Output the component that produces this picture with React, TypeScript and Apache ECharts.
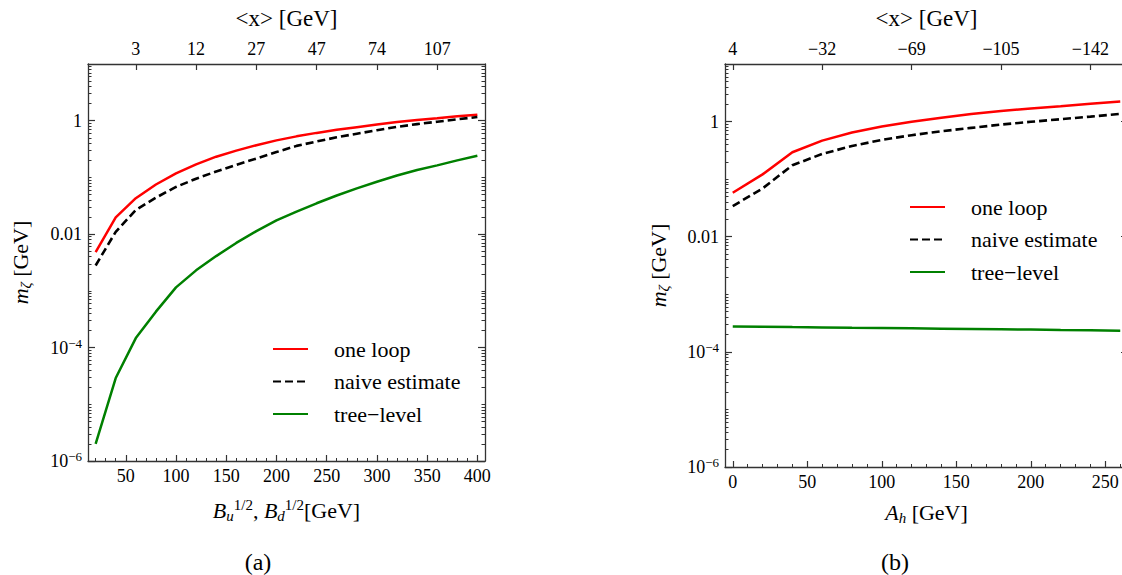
import React, { useEffect, useRef } from 'react';
import * as echarts from 'echarts';

// ---------- data ----------
const xLeft = [20, 40, 60, 80, 100, 120, 140, 160, 180, 200, 220, 240, 260, 280, 300, 320, 340, 360, 380, 400];
const oneLoopLeft = [0.0048, 0.0198, 0.043, 0.075, 0.118, 0.17, 0.232, 0.297, 0.37, 0.45, 0.53, 0.61, 0.69, 0.77, 0.86, 0.95, 1.03, 1.11, 1.2, 1.28];
const naiveLeft = [0.0028, 0.011, 0.0267, 0.044, 0.068, 0.095, 0.127, 0.167, 0.215, 0.28, 0.36, 0.43, 0.51, 0.59, 0.68, 0.78, 0.87, 0.96, 1.06, 1.16];
const treeLeft = [2.0e-6, 2.9e-5, 1.47e-4, 4.3e-4, 1.15e-3, 2.3e-3, 4.1e-3, 7.0e-3, 0.0113, 0.0175, 0.025, 0.035, 0.048, 0.064, 0.084, 0.108, 0.135, 0.163, 0.2, 0.242];

const xRight = [0, 20, 40, 60, 80, 100, 120, 140, 160, 180, 200, 220, 240, 260];
const oneLoopRight = [0.058, 0.121, 0.293, 0.467, 0.645, 0.82, 0.99, 1.16, 1.35, 1.52, 1.69, 1.85, 2.03, 2.23];
const naiveRight = [0.034, 0.069, 0.174, 0.274, 0.377, 0.48, 0.58, 0.68, 0.776, 0.887, 0.99, 1.1, 1.22, 1.36];
const treeRight = [2.77e-4, 2.73e-4, 2.69e-4, 2.66e-4, 2.62e-4, 2.59e-4, 2.56e-4, 2.53e-4, 2.5e-4, 2.47e-4, 2.44e-4, 2.4e-4, 2.37e-4, 2.33e-4];

const seriesNames = ['one loop', 'naive estimate', 'tree\u2212level'];

const bottomTicksLeft = [50, 100, 150, 200, 250, 300, 350, 400];
const topTickPosLeft = [60, 120, 180, 240, 300, 360];
const topTickLabelsLeft = ['3', '12', '27', '47', '74', '107'];

const bottomTicksRight = [0, 50, 100, 150, 200, 250];
const topTickPosRight = [0, 60, 120, 180, 240];
const topTickLabelsRight = ['4', '\u221232', '\u221269', '\u2212105', '\u2212142'];

const yMajorTicks = [1e-6, 1e-4, 1e-2, 1];

// ---------- styling helpers ----------
const FONT = 'Liberation Serif';
const FRAME = '#333333';

function range(a: number, b: number, step: number) {
  const out: number[] = [];
  for (let v = a; v <= b + 1e-9; v += step) out.push(v);
  return out;
}

function yMinorTicks() {
  const out: number[] = [];
  for (let n = -6; n <= 0; n++) {
    if (n % 2 !== 0) out.push(Number('1e' + n));
    for (let k = 2; k <= 9; k++) out.push(Number(k + 'e' + n));
  }
  return out;
}

function yLabel(v: number) {
  const e = Math.round(Math.log10(v));
  if (e === 0) return '1';
  if (e === -2) return '0.01';
  return '{b|10}{s|\u2212' + -e + '}';
}

const yRich = {
  b: { fontSize: 18, fontFamily: FONT, color: '#000', lineHeight: 22, verticalAlign: 'middle' },
  s: { fontSize: 13, fontFamily: FONT, color: '#000', verticalAlign: 'top' },
};

const titleRich = {
  t: { fontSize: 22, fontFamily: FONT, color: '#000', lineHeight: 26 },
  i: { fontSize: 22, fontFamily: FONT, fontStyle: 'italic', color: '#000', lineHeight: 26 },
  sub: { fontSize: 15, fontFamily: FONT, fontStyle: 'italic', color: '#000', verticalAlign: 'bottom' },
  sup: { fontSize: 15, fontFamily: FONT, color: '#000', verticalAlign: 'top' },
};

function mainX(gridIndex: number, min: number, max: number, ticks: number[], name: string, nameGap: number) {
  return {
    type: 'value', gridIndex, position: 'bottom', min, max,
    axisLine: { show: true, onZero: false, lineStyle: { color: FRAME, width: 1.3 } },
    axisTick: { show: true, inside: true, length: 6, customValues: ticks, lineStyle: { color: FRAME, width: 1.2 } },
    axisLabel: { show: true, customValues: ticks, margin: 6, fontSize: 18, fontFamily: FONT, color: '#000' },
    splitLine: { show: false },
    name, nameLocation: 'middle', nameGap,
    nameTextStyle: { rich: titleRich, fontSize: 22, fontFamily: FONT, color: '#000', lineHeight: 26 },
  };
}

function topX(gridIndex: number, min: number, max: number, pos: number[], labels: string[]) {
  return {
    type: 'value', gridIndex, position: 'top', min, max,
    axisLine: { show: true, onZero: false, lineStyle: { color: FRAME, width: 1.3 } },
    axisTick: { show: true, inside: true, length: 6, customValues: pos, lineStyle: { color: FRAME, width: 1.2 } },
    axisLabel: {
      show: true, customValues: pos, margin: 6, fontSize: 18, fontFamily: FONT, color: '#000',
      formatter: (v: number) => {
        const i = pos.findIndex((p) => Math.abs(p - v) < 1e-6);
        return i >= 0 ? labels[i] : '';
      },
    },
    splitLine: { show: false },
    name: '<x> [GeV]', nameLocation: 'middle', nameGap: 34,
    nameTextStyle: { fontSize: 23, fontFamily: FONT, color: '#000', lineHeight: 24 },
  };
}

function minorX(gridIndex: number, min: number, max: number, ticks: number[]) {
  return {
    type: 'value', gridIndex, position: 'bottom', min, max,
    axisLine: { show: false, onZero: false },
    axisTick: { show: true, inside: true, length: 3, customValues: ticks, lineStyle: { color: FRAME, width: 1 } },
    axisLabel: { show: false },
    splitLine: { show: false },
  };
}

function mainY(gridIndex: number, position: string, withLabels: boolean, nameGap: number) {
  return {
    type: 'log', logBase: 10, gridIndex, position, min: 1e-6, max: 10,
    axisLine: { show: true, onZero: false, lineStyle: { color: FRAME, width: 1.3 } },
    axisTick: { show: true, inside: true, length: 7, customValues: yMajorTicks, lineStyle: { color: FRAME, width: 1.2 } },
    axisLabel: withLabels
      ? { show: true, customValues: yMajorTicks, margin: 6, fontSize: 18, fontFamily: FONT, color: '#000', formatter: yLabel, rich: yRich }
      : { show: false },
    splitLine: { show: false },
    minorTick: { show: false },
    name: withLabels ? '{i|m}{sub|\u03b6}{t| [GeV]}' : '',
    nameLocation: 'middle', nameGap,
    nameTextStyle: { rich: titleRich, fontSize: 22, fontFamily: FONT, color: '#000', lineHeight: 26 },
  };
}

function minorY(gridIndex: number, position: string) {
  return {
    type: 'log', logBase: 10, gridIndex, position, min: 1e-6, max: 10,
    axisLine: { show: false, onZero: false },
    axisTick: { show: true, inside: true, length: 3.5, customValues: yMinorTicks(), lineStyle: { color: FRAME, width: 1 } },
    axisLabel: { show: false },
    splitLine: { show: false },
    minorTick: { show: false },
  };
}

function lineSeries(name: string, xi: number, yi: number, xs: number[], ys: number[], color: string, dashed: boolean) {
  return {
    type: 'line', name, xAxisIndex: xi, yAxisIndex: yi,
    data: xs.map((x, i) => [x, ys[i]]),
    symbol: 'none', showSymbol: false, smooth: false,
    lineStyle: { color, width: dashed ? 2.6 : 2.5, type: dashed ? [8, 4] : 'solid' },
    itemStyle: { color },
    emphasis: { disabled: true },
  };
}

function legend(left: number, top: number) {
  return {
    orient: 'vertical', left, top, padding: 0, itemWidth: 35, itemHeight: 14, itemGap: 10.5,
    selectedMode: false, data: seriesNames,
    itemStyle: { opacity: 0 },
    textStyle: { fontSize: 22, fontFamily: FONT, color: '#000', lineHeight: 22, padding: [0, 0, 0, 21] },
  };
}

const GL = { left: 88, top: 64, width: 397, height: 397 };
const GR = { left: 725, top: 64, width: 403, height: 403 };

const LXMIN = 12.4, LXMAX = 407.6;
const RXMIN = -5.2, RXMAX = 265.2;

export default function App() {
  const ref = useRef<HTMLDivElement>(null);
  useEffect(() => {
    if (!ref.current) return;
    const chart = echarts.init(ref.current, undefined, { renderer: 'svg' });
    const g = (r: any) => ({ ...r, containLabel: false, outerBoundsMode: 'none' });
    const option = {
      animation: false,
      backgroundColor: '#ffffff',
      textStyle: { fontFamily: FONT },
      grid: [g(GL), g(GL), g(GR), g(GR)],
      xAxis: [
        mainX(0, LXMIN, LXMAX, bottomTicksLeft, '{i|B}{sub|u}{sup|1/2}{t|, }{i|B}{sub|d}{sup|1/2}{t|[GeV]}', 36),
        topX(0, LXMIN, LXMAX, topTickPosLeft, topTickLabelsLeft),
        minorX(1, LXMIN, LXMAX, range(20, 400, 10)),
        mainX(2, RXMIN, RXMAX, bottomTicksRight, '{i|A}{sub|h}{t| [GeV]}', 32),
        topX(2, RXMIN, RXMAX, topTickPosRight, topTickLabelsRight),
        minorX(3, RXMIN, RXMAX, range(0, 260, 10)),
      ],
      yAxis: [
        mainY(0, 'left', true, 55),
        mainY(0, 'right', false, 0),
        minorY(1, 'left'),
        minorY(1, 'right'),
        mainY(2, 'left', true, 54),
        mainY(2, 'right', false, 0),
        minorY(3, 'left'),
        minorY(3, 'right'),
      ],
      legend: [legend(272, 338), legend(909, 196)],
      series: [
        lineSeries(seriesNames[0], 0, 0, xLeft, oneLoopLeft, '#ff0000', false),
        lineSeries(seriesNames[1], 0, 0, xLeft, naiveLeft, '#000000', true),
        lineSeries(seriesNames[2], 0, 0, xLeft, treeLeft, '#008000', false),
        lineSeries(seriesNames[0], 3, 4, xRight, oneLoopRight, '#ff0000', false),
        lineSeries(seriesNames[1], 3, 4, xRight, naiveRight, '#000000', true),
        lineSeries(seriesNames[2], 3, 4, xRight, treeRight, '#008000', false),
      ],
      graphic: [
        { type: 'text', x: 258, y: 562, style: { text: '(a)', fontSize: 24, fontFamily: FONT, fill: '#000', align: 'center', verticalAlign: 'middle' } },
        { type: 'text', x: 895, y: 562, style: { text: '(b)', fontSize: 24, fontFamily: FONT, fill: '#000', align: 'center', verticalAlign: 'middle' } },
      ],
    };
    chart.setOption(option as any);
    return () => chart.dispose();
  }, []);
  return <div ref={ref} style={{ position: 'absolute', left: 0, top: 0, width: 1122, height: 575 }} />;
}
